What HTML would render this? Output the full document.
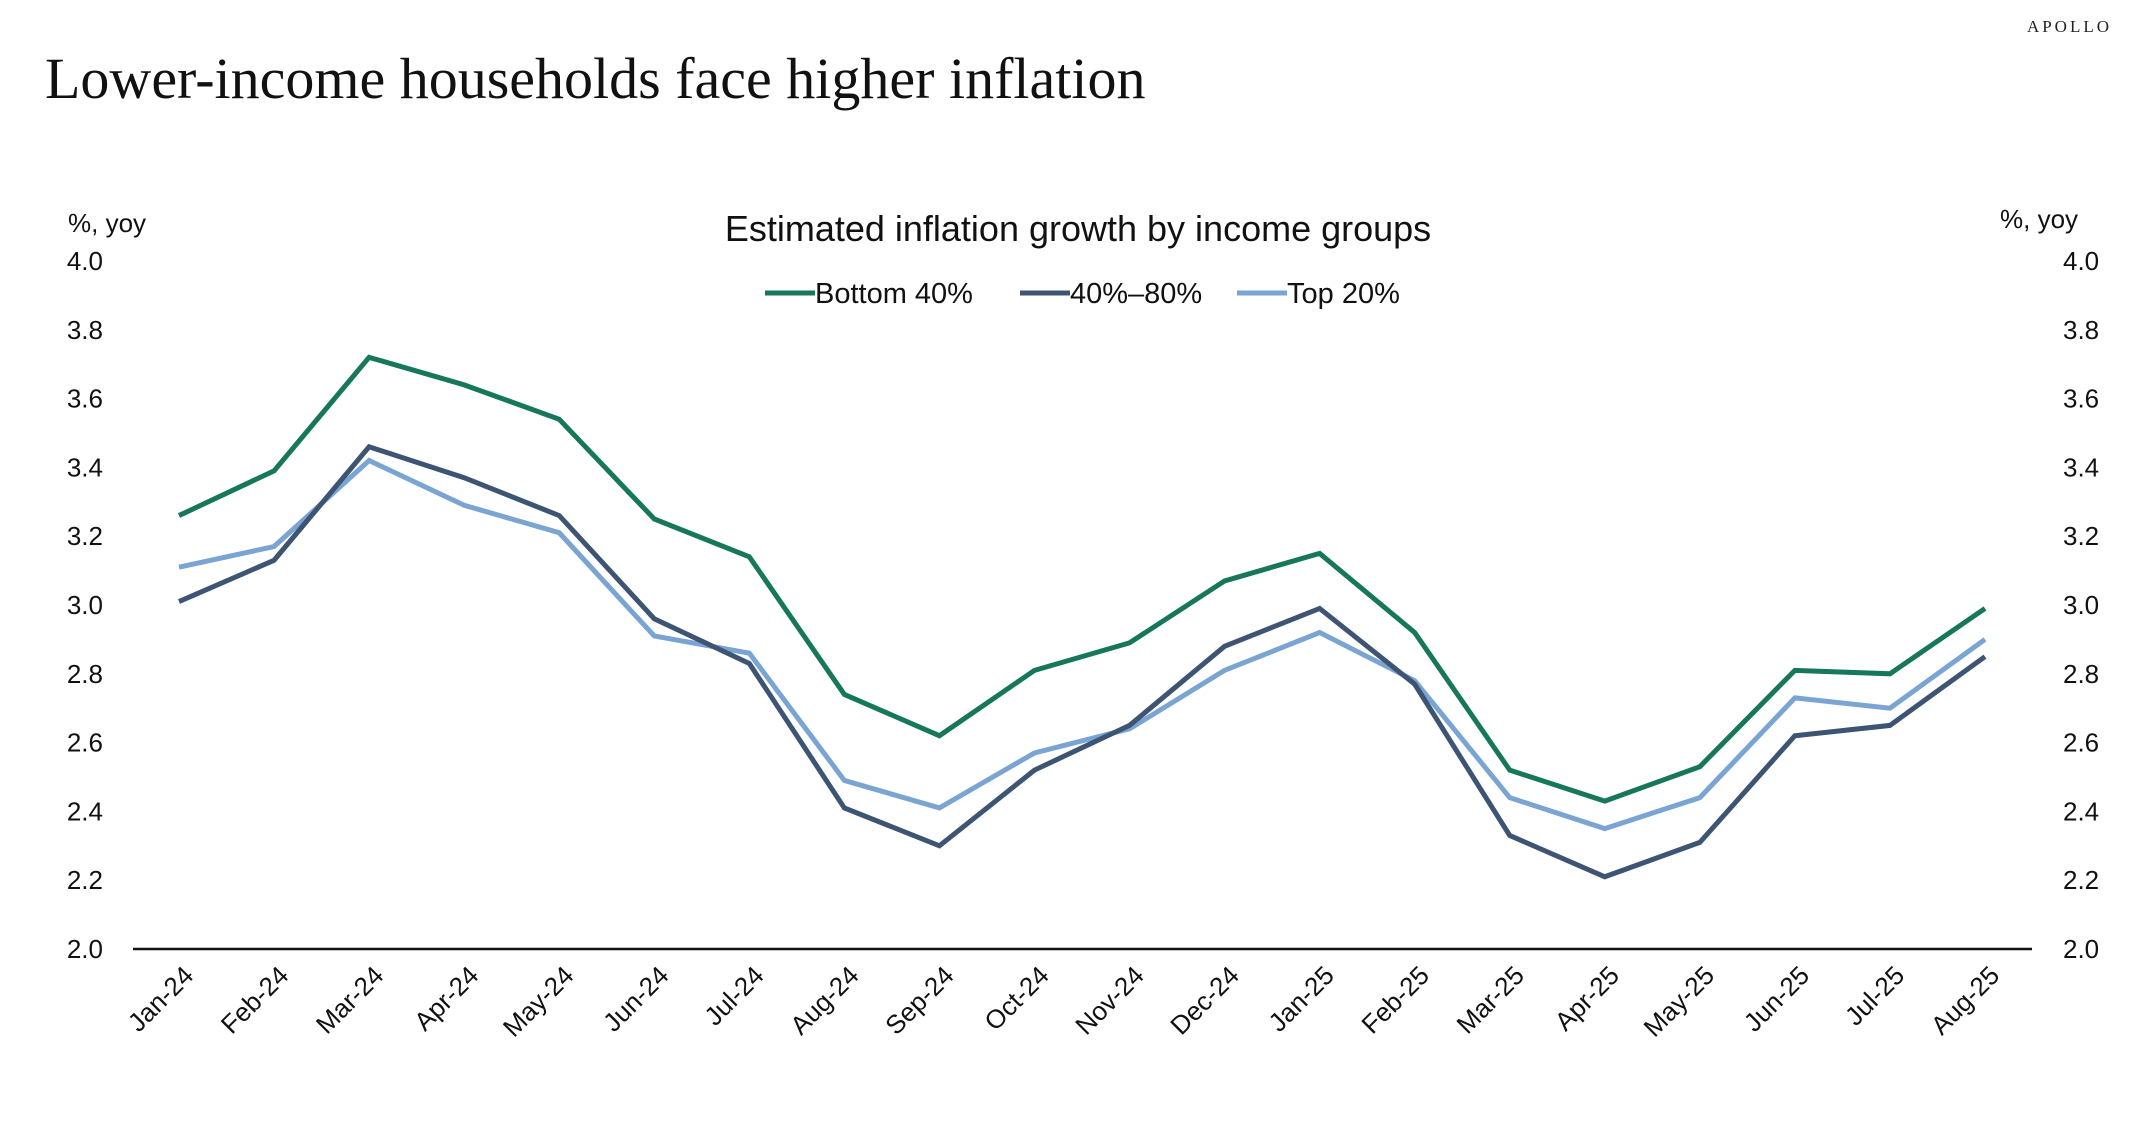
<!DOCTYPE html>
<html><head><meta charset="utf-8"><style>
body{margin:0;background:#fff;width:2156px;height:1122px;overflow:hidden;font-family:"Liberation Sans",sans-serif}
</style></head><body>
<svg id="c" width="2156" height="1122" xmlns="http://www.w3.org/2000/svg">
<text x="2112" y="32" text-anchor="end" font-family="Liberation Serif,serif" font-size="17" letter-spacing="3" fill="#222">APOLLO</text>
<text x="45" y="98" font-family="Liberation Serif,serif" font-size="58" fill="#111">Lower-income households face higher inflation</text>
<text x="1078" y="241" text-anchor="middle" font-size="36" fill="#111">Estimated inflation growth by income groups</text>
<text x="68" y="232" font-size="26" fill="#111">%, yoy</text>
<text x="2000" y="228" font-size="26" fill="#111">%, yoy</text>
<g id="legend"></g>
<g id="grid"></g>
<g id="lines"></g>
</svg>
<script>
const categories=["Jan-24","Feb-24","Mar-24","Apr-24","May-24","Jun-24","Jul-24","Aug-24","Sep-24","Oct-24","Nov-24","Dec-24","Jan-25","Feb-25","Mar-25","Apr-25","May-25","Jun-25","Jul-25","Aug-25"];
const bottom40=[3.26,3.39,3.72,3.64,3.54,3.25,3.14,2.74,2.62,2.81,2.89,3.07,3.15,2.92,2.52,2.43,2.53,2.81,2.80,2.99];
const mid4080=[3.01,3.13,3.46,3.37,3.26,2.96,2.83,2.41,2.30,2.52,2.65,2.88,2.99,2.77,2.33,2.21,2.31,2.62,2.65,2.85];
const top20=[3.11,3.17,3.42,3.29,3.21,2.91,2.86,2.49,2.41,2.57,2.64,2.81,2.92,2.78,2.44,2.35,2.44,2.73,2.70,2.90];
const yTicks=["2.0","2.2","2.4","2.6","2.8","3.0","3.2","3.4","3.6","3.8","4.0"];
const seriesNames=["Bottom 40%","40%–80%","Top 20%"];
const NS="http://www.w3.org/2000/svg";
const x=i=>179+i*(1985-179)/(categories.length-1);
const y=v=>949-(v-2)*(949-261)/2;
function mk(t,a,p){const e=document.createElementNS(NS,t);for(const k in a)e.setAttribute(k,a[k]);p.appendChild(e);return e;}
const grid=document.getElementById('grid');
const ax=mk('line',{x1:133,x2:2032,y1:949,y2:949,stroke:'#111','stroke-width':2.5},grid);


yTicks.forEach(t=>{
 const l=mk('text',{x:103,y:y(+t)+9,'text-anchor':'end','font-size':26,fill:'#111'},grid);l.textContent=t;
 
 
 const r=mk('text',{x:2063,y:y(+t)+9,'font-size':26,fill:'#111'},grid);r.textContent=t;
 
 
});
categories.forEach((c,i)=>{
 const t=mk('text',{x:x(i)+16,y:977,'text-anchor':'end','font-size':26,fill:'#111',transform:`rotate(-45 ${x(i)+16} 977)`},grid);t.textContent=c;
 
 
});
const colors=["#17775a","#3d5573","#7aa4d2"];
const lines=document.getElementById('lines');
[bottom40,mid4080,top20].forEach((s,k)=>{
 const p=mk('polyline',{points:s.map((v,i)=>x(i)+','+y(v)).join(' '),fill:'none',stroke:colors[k],'stroke-width':5,'stroke-linejoin':'miter'},lines);
 
 
});
lines.insertBefore(lines.children[2],lines.children[0]);
const lg=document.getElementById('legend');
const lx=[765,1020,1237];
seriesNames.forEach((n,k)=>{
 const g=mk('g',{},lg);
 
 
 mk('line',{x1:lx[k],x2:lx[k]+50,y1:293,y2:293,stroke:colors[k],'stroke-width':5},g);
 const t=mk('text',{x:lx[k]+50,y:303,'font-size':29,fill:'#111'},g);t.textContent=n;
});
</script>
</body></html>
